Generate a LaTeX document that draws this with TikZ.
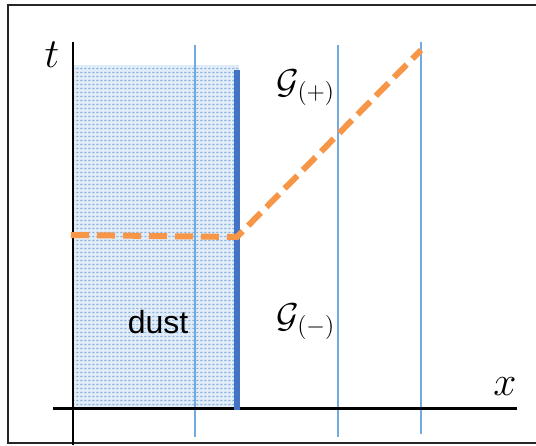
\documentclass[tikz,border=0pt]{standalone}
\usepackage{fontspec}
\newfontfamily\dustfont{Liberation Sans}
\usepackage{tikz}
\usetikzlibrary{patterns.meta}
\definecolor{shellblue}{HTML}{4472C4}
\definecolor{worldblue}{HTML}{74ABDF}
\definecolor{dotblue}{HTML}{7FAEDF}
\definecolor{horange}{HTML}{F79646}
\tikzdeclarepattern{
  name=dustdots, type=uncolored,
  bounding box={(0pt,0pt) and (2pt,2pt)},
  tile size={(2pt,2pt)},
  code={\fill (0.3pt,0.5pt) rectangle (1.5pt,1.4pt);}
}

\begin{document}
\begin{tikzpicture}[x=0.5pt, y=-0.5pt,
    axis/.style={black, line width=1.5pt},
    world/.style={worldblue, line width=1.4pt},
    shell/.style={shellblue, line width=3pt},
    horizon/.style={horange, line width=3pt, dash pattern=on 9pt off 4pt},
    lbl/.style={font=\fontsize{22}{22}\selectfont},
    glbl/.style={font=\fontsize{17}{17}\selectfont},
  ]
    \clip (0,0) rectangle (536,445);
    \draw[line width=1pt, black!85] (8,5) rectangle (560,443);

    % dust ball
    \fill[dotblue!22] (73,65) rectangle (239,408);
    \fill[pattern={dustdots}, pattern color=dotblue] (73,65) rectangle (239,408);

    % worldlines
    \draw[world] (195,45) -- (195,437);
    \draw[world] (338,45) -- (338,437);
    \draw[world] (421,42) -- (421,434);

    % axes
    \draw[black, line width=1pt] (73,42) -- (73,445);
    \draw[axis] (53,408) -- (517,408);

    % surface of the dust
    \draw[shell] (237,70) -- (237,410);

    % horizon
    \coordinate (h0) at (71,235);
    \coordinate (h1) at (237,237);
    \coordinate (h2) at (421,50);
    \draw[horizon] (h0) -- (h1) -- (h2);

    \node[lbl] (tlab) at (52,55) {$t$};
    \node[lbl] (xlab) at (505,387) {$x$};
    \node[glbl] (gplus) at (306,88) {$\mathcal{G}_{(+)}$};
    \node[glbl] (gminus) at (306,322) {$\mathcal{G}_{(-)}$};
    \node[font=\dustfont\fontsize{16}{16}\selectfont] (dust) at (158,322) {dust};
\end{tikzpicture}
\end{document}
